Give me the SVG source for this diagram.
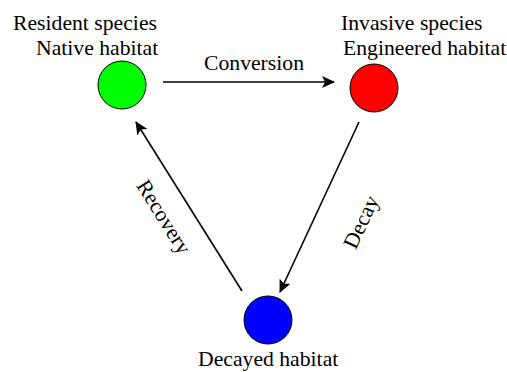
<svg xmlns="http://www.w3.org/2000/svg" width="507" height="372" viewBox="0 0 507 372">
<style>
text{font-family:"Liberation Serif","Times New Roman",serif;font-size:21.7px;fill:#000}
.n{stroke:#000;stroke-width:1}
.e{stroke:#000;stroke-width:1.6;fill:none;marker-end:url(#ah)}
</style>
<defs>
<marker id="ah" markerWidth="14" markerHeight="12" refX="12" refY="6" orient="auto" markerUnits="userSpaceOnUse">
<path d="M0,0 L13,6 L0,12 L3,6 Z" fill="#000"/>
</marker>
</defs>
<rect width="507" height="372" fill="#fff"/>
<g id="connectors">
<line class="e" x1="163" y1="82" x2="334" y2="82"/>
<line class="e" x1="359" y1="122" x2="280" y2="292"/>
<line class="e" x1="242" y1="291" x2="136" y2="122"/>
<text x="204" y="70">Conversion</text>
<text transform="translate(162,218) rotate(58)" text-anchor="middle" dominant-baseline="middle">Recovery</text>
<text transform="translate(363,223) rotate(-65)" text-anchor="middle" dominant-baseline="middle">Decay</text>
</g>
<g id="native">
<circle class="n" cx="122" cy="85" r="24" fill="#00ff00"/>
<text x="13" y="30">Resident species</text>
<text x="36" y="55">Native habitat</text>
</g>
<g id="engineered">
<circle class="n" cx="374" cy="88" r="24" fill="#ff0000"/>
<text x="341" y="30">Invasive species</text>
<text x="343" y="55">Engineered habitat</text>
</g>
<g id="decayed">
<circle class="n" cx="268" cy="320" r="24" fill="#0000ff"/>
<text x="198" y="366">Decayed habitat</text>
</g>
</svg>
